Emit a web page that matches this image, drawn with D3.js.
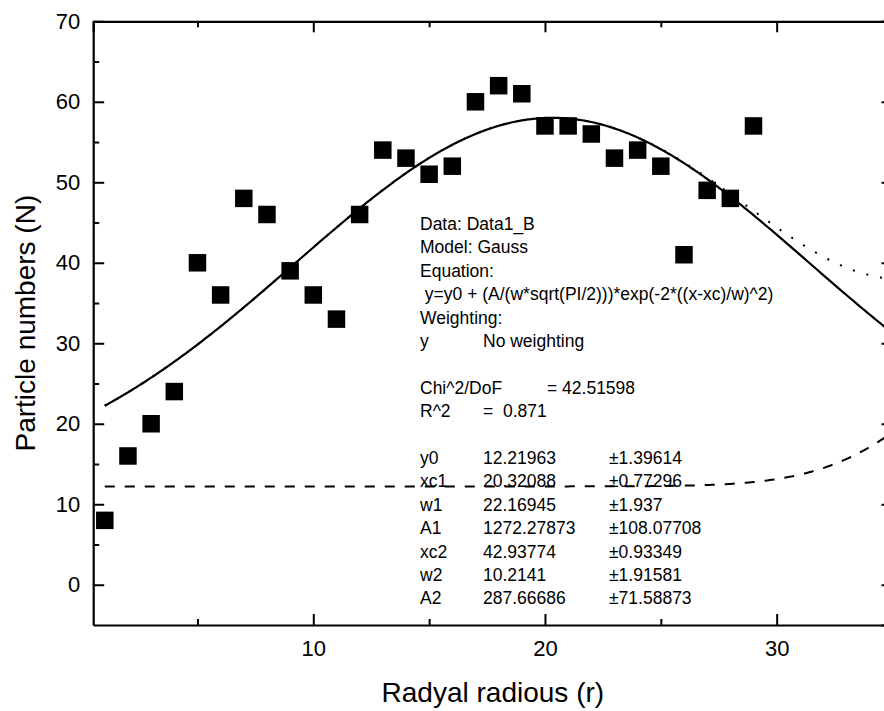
<!DOCTYPE html>
<html>
<head>
<meta charset="utf-8">
<script src="https://cdn.jsdelivr.net/npm/d3@7/dist/d3.min.js"></script>
<style>
  body { margin: 0; background: #fff; }
  svg { display: block; font-family: Arial, "Liberation Sans", sans-serif; }
</style>
</head>
<body>
<svg id="chart" width="884" height="711"></svg>
<script>
// SET UP DATA
const radius = [1, 2, 3, 4, 5, 6, 7, 8, 9, 10, 11, 12, 13, 14, 15, 16, 17, 18, 19, 20, 21, 22, 23, 24, 25, 26, 27, 28, 29];
const particles = [8, 16, 20, 24, 40, 36, 48, 46, 39, 36, 33, 46, 54, 53, 51, 52, 60, 62, 61, 57, 57, 56, 53, 54, 52, 41, 49, 48, 57];

// fit parameters (Gauss, two peaks) as printed on the chart
const paramNames = ["y0", "xc1", "w1", "A1", "xc2", "w2", "A2"];
const paramValues = [12.21963, 20.32088, 22.16945, 1272.27873, 42.93774, 10.2141, 287.66686];
const paramErrors = ["±1.39614", "±0.77296", "±1.937", "±108.07708", "±0.93349", "±1.91581", "±71.58873"];

const xMajorTicks = [10, 20, 30];
const xMinorTicks = [5, 15, 25, 35];
const yMajorTicks = [0, 10, 20, 30, 40, 50, 60, 70];
const yMinorTicks = [5, 15, 25, 35, 45, 55, 65];

const infoLines = ["Data: Data1_B", "Model: Gauss", "Equation:",
  " y=y0 + (A/(w*sqrt(PI/2)))*exp(-2*((x-xc)/w)^2)", "Weighting:"];

const svg = d3.select("#chart");

const x = d3.scaleLinear().domain([0.5, 35]).range([93.2, 892.5]);
const y = d3.scaleLinear().domain([-5, 70]).range([625, 21.3]);

const [y0, xc1, w1, A1, xc2, w2, A2] = paramValues;
function gauss(r, A, xc, w) {
  return (A / (w * Math.sqrt(Math.PI / 2))) * Math.exp(-2 * Math.pow((r - xc) / w, 2));
}

const curveX = d3.range(1, 35.05, 0.1);
const line = d3.line().x(d => x(d[0])).y(d => y(d[1]));

const fitTotal = curveX.map(r => [r, y0 + gauss(r, A1, xc1, w1) + gauss(r, A2, xc2, w2)]);
const peak1 = curveX.map(r => [r, y0 + gauss(r, A1, xc1, w1)]);
const peak2 = curveX.map(r => [r, y0 + gauss(r, A2, xc2, w2)]);

// dotted total fit
svg.append("path")
  .attr("d", line(fitTotal))
  .attr("fill", "none")
  .attr("stroke", "#000")
  .attr("stroke-width", 2)
  .attr("stroke-dasharray", "2,12");

// dashed second peak
svg.append("path")
  .attr("d", line(peak2))
  .attr("fill", "none")
  .attr("stroke", "#000")
  .attr("stroke-width", 2)
  .attr("stroke-dasharray", "10,10");

// solid first peak
svg.append("path")
  .attr("d", line(peak1))
  .attr("fill", "none")
  .attr("stroke", "#000")
  .attr("stroke-width", 2.2);

// data squares
svg.selectAll("path.point")
  .data(radius.map((r, i) => ({ r: r, n: particles[i] })))
  .join("path")
  .attr("class", "point")
  .attr("transform", d => `translate(${x(d.r)},${y(d.n)})`)
  .attr("d", d3.symbol(d3.symbolSquare, 17.5 * 17.5))
  .attr("fill", "#000");

// fit report text
const info = svg.append("g")
  .attr("font-size", "17.5px")
  .attr("fill", "#000");
const lineH = 23.4;
const top0 = 230;
const col1 = 420, col2 = 483, col3 = 609;

infoLines.forEach((t, i) => {
  info.append("text")
    .attr("x", col1)
    .attr("y", top0 + i * lineH)
    .attr("xml:space", "preserve")
    .style("white-space", "pre")
    .text(t);
});
info.append("text").attr("x", col1).attr("y", top0 + 5 * lineH).text("y");
info.append("text").attr("x", col2).attr("y", top0 + 5 * lineH).text("No weighting");

info.append("text").attr("x", col1).attr("y", top0 + 7 * lineH).text("Chi^2/DoF");
info.append("text").attr("x", 547).attr("y", top0 + 7 * lineH).text("= 42.51598");
info.append("text").attr("x", col1).attr("y", top0 + 8 * lineH).text("R^2");
info.append("text").attr("x", col2).attr("y", top0 + 8 * lineH).text("=");
info.append("text").attr("x", 503).attr("y", top0 + 8 * lineH).text("0.871");

paramNames.forEach((p, i) => {
  const yy = top0 + (10 + i) * lineH;
  info.append("text").attr("x", col1).attr("y", yy).text(p);
  info.append("text").attr("x", col2).attr("y", yy).text(String(paramValues[i]));
  info.append("text").attr("x", col3).attr("y", yy).text(paramErrors[i]);
});

// AXES
function styleAxis(g) {
  g.selectAll("path.domain").attr("stroke", "#000").attr("stroke-width", 2.2);
  g.selectAll(".tick line").attr("stroke", "#000").attr("stroke-width", 2);
  g.selectAll(".tick text")
    .attr("fill", "#000")
    .attr("font-size", "22px")
    .attr("font-family", "Arial, 'Liberation Sans', sans-serif");
}

svg.append("g")
  .attr("transform", `translate(0,${y(-5)})`)
  .call(d3.axisBottom(x).tickValues(xMajorTicks).tickSizeInner(-11).tickSizeOuter(0).tickPadding(15))
  .call(styleAxis);
svg.append("g")
  .attr("transform", `translate(0,${y(-5)})`)
  .call(d3.axisBottom(x).tickValues(xMinorTicks).tickSize(-6).tickFormat(""))
  .call(g => g.select(".domain").remove())
  .call(styleAxis);

svg.append("g")
  .attr("transform", `translate(0,${y(70)})`)
  .call(d3.axisTop(x).tickValues(xMajorTicks).tickSize(-11).tickFormat(""))
  .call(styleAxis);
svg.append("g")
  .attr("transform", `translate(0,${y(70)})`)
  .call(d3.axisTop(x).tickValues(xMinorTicks).tickSize(-6).tickFormat(""))
  .call(g => g.select(".domain").remove())
  .call(styleAxis);

svg.append("g")
  .attr("transform", `translate(${x(0.5)},0)`)
  .call(d3.axisLeft(y).tickValues(yMajorTicks).tickSizeInner(-11).tickSizeOuter(0).tickPadding(13))
  .call(styleAxis);
svg.append("g")
  .attr("transform", `translate(${x(0.5)},0)`)
  .call(d3.axisLeft(y).tickValues(yMinorTicks).tickSize(-6).tickFormat(""))
  .call(g => g.select(".domain").remove())
  .call(styleAxis);

svg.append("g")
  .attr("transform", `translate(${x(35)},0)`)
  .call(d3.axisRight(y).tickValues(yMajorTicks).tickSize(-11).tickFormat(""))
  .call(styleAxis);
svg.append("g")
  .attr("transform", `translate(${x(35)},0)`)
  .call(d3.axisRight(y).tickValues(yMinorTicks).tickSize(-6).tickFormat(""))
  .call(g => g.select(".domain").remove())
  .call(styleAxis);

// axis titles
svg.append("text")
  .attr("x", (x(0.5) + x(35)) / 2)
  .attr("y", 702)
  .attr("text-anchor", "middle")
  .attr("font-size", "28px")
  .text("Radyal radious (r)");

svg.append("text")
  .attr("transform", `translate(35,${(y(-5) + y(70)) / 2}) rotate(-90)`)
  .attr("text-anchor", "middle")
  .attr("font-size", "28px")
  .text("Particle numbers (N)");
</script>
</body>
</html>
